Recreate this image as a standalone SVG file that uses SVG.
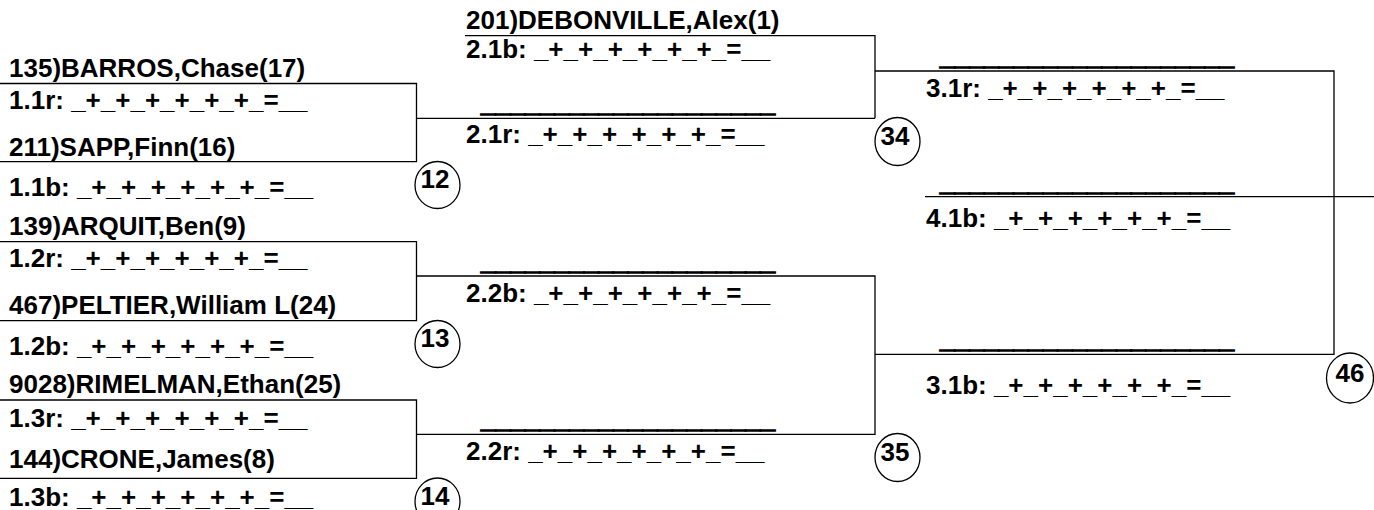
<svg xmlns="http://www.w3.org/2000/svg" width="1374" height="510" viewBox="0 0 1374 510">
<style>
text{font-family:"Liberation Sans",Arial,sans-serif;font-weight:bold;font-size:26px;fill:#000}
.num{text-anchor:middle}
.ph{stroke:#000;stroke-width:1.6}
.ln{fill:none;stroke:#000;stroke-width:1.3}
.cir{fill:#fff;stroke:#000;stroke-width:1.3}
</style>
<rect width="1374" height="510" fill="#fff"/>
<g id="connectors" class="ln">
<path class="ln" d="M0 83.5H416.5V161.7H0"/>
<path class="ln" d="M0 241.7H416.5V320.7H0"/>
<path class="ln" d="M0 400H416.5V478.3H0"/>
<path class="ln" d="M416.5 118.3H875"/>
<path class="ln" d="M416.5 276H875V434.3H416.5"/>
<path class="ln" d="M465 35.7H875V118.3"/>
<path class="ln" d="M875 71H1334V354.3H875"/>
<path class="ln" d="M925 196.7H1374"/>
</g>
<g id="m12">
<text x="9" y="77">135)BARROS,Chase(17)</text>
<text x="9" y="109.3">1.1r: _+_+_+_+_+_+_=__</text>
<text x="9" y="156">211)SAPP,Finn(16)</text>
<text x="9" y="196">1.1b: _+_+_+_+_+_+_=__</text>
<ellipse class="cir" cx="437.5" cy="185" rx="22.5" ry="23.5"/>
<text class="num" x="435" y="188">12</text>
</g>
<g id="m13">
<text x="9" y="235">139)ARQUIT,Ben(9)</text>
<text x="9" y="267">1.2r: _+_+_+_+_+_+_=__</text>
<text x="9" y="314">467)PELTIER,William L(24)</text>
<text x="9" y="354.5">1.2b: _+_+_+_+_+_+_=__</text>
<ellipse class="cir" cx="437.5" cy="344" rx="22.5" ry="23.5"/>
<text class="num" x="435" y="347">13</text>
</g>
<g id="m14">
<text x="9" y="393">9028)RIMELMAN,Ethan(25)</text>
<text x="9" y="427">1.3r: _+_+_+_+_+_+_=__</text>
<text x="9" y="468">144)CRONE,James(8)</text>
<text x="9" y="505.5">1.3b: _+_+_+_+_+_+_=__</text>
<ellipse class="cir" cx="437.5" cy="501.5" rx="22.5" ry="23.5"/>
<text class="num" x="435" y="504.5">14</text>
</g>
<g id="m34">
<text x="466" y="28.5">201)DEBONVILLE,Alex(1)</text>
<text x="466" y="58.3">2.1b: _+_+_+_+_+_+_=__</text>
<text class="ph" x="481" y="112.3" textLength="294" lengthAdjust="spacingAndGlyphs">____________________</text>
<text x="466" y="143.3">2.1r: _+_+_+_+_+_+_=__</text>
<ellipse class="cir" cx="897.5" cy="141.5" rx="22.5" ry="24"/>
<text class="num" x="895" y="144.5">34</text>
</g>
<g id="m35">
<text class="ph" x="481" y="270" textLength="294" lengthAdjust="spacingAndGlyphs">____________________</text>
<text x="466" y="302">2.2b: _+_+_+_+_+_+_=__</text>
<text class="ph" x="481" y="428.3" textLength="294" lengthAdjust="spacingAndGlyphs">____________________</text>
<text x="466" y="460">2.2r: _+_+_+_+_+_+_=__</text>
<ellipse class="cir" cx="897.5" cy="457.5" rx="22.5" ry="24"/>
<text class="num" x="895" y="460.5">35</text>
</g>
<g id="m46">
<text class="ph" x="940" y="65" textLength="294" lengthAdjust="spacingAndGlyphs">____________________</text>
<text x="926" y="96.7">3.1r: _+_+_+_+_+_+_=__</text>
<text class="ph" x="940" y="348.3" textLength="294" lengthAdjust="spacingAndGlyphs">____________________</text>
<text x="926" y="394">3.1b: _+_+_+_+_+_+_=__</text>
<ellipse class="cir" cx="1350" cy="378" rx="23.5" ry="25"/>
<text class="num" x="1350" y="381.5">46</text>
</g>
<g id="s41">
<text class="ph" x="940" y="190.7" textLength="294" lengthAdjust="spacingAndGlyphs">____________________</text>
<text x="926" y="227">4.1b: _+_+_+_+_+_+_=__</text>
</g>
</svg>
